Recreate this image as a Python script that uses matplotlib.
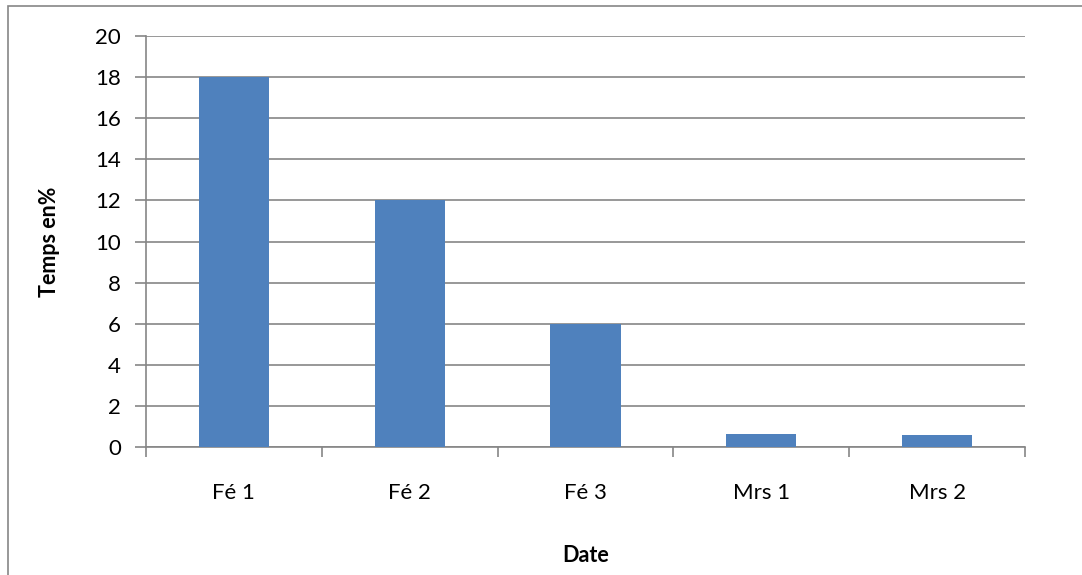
import matplotlib
matplotlib.use("Agg")
import matplotlib.pyplot as plt
from matplotlib.patches import Rectangle

categories = ["Fé 1", "Fé 2", "Fé 3", "Mrs 1", "Mrs 2"]
values = [18, 12, 6, 0.65, 0.6]
yticks = [0, 2, 4, 6, 8, 10, 12, 14, 16, 18, 20]

plt.rcParams['font.family'] = ['Lato', 'DejaVu Sans']

W, H = 1082, 575
fig = plt.figure(figsize=(W / 100, H / 100), dpi=100)
fig.patch.set_facecolor('white')

# outer chart frame
fig.patches.append(Rectangle((8 / W, -0.1), 1.2, 1 - 6 / H + 0.1, transform=fig.transFigure,
                             fill=False, edgecolor='#868686', linewidth=1.2))

ax = fig.add_axes([146 / W, (H - 447) / H, (1025 - 146) / W, (447 - 36) / H])
grid_c = '#868686'
x = list(range(len(categories)))
ax.bar(x, values, width=0.4, color='#4F81BD', zorder=3)
ax.set_xlim(-0.5, len(categories) - 0.5)
ax.set_ylim(0, 20)
ax.set_yticks(yticks)
ax.set_yticklabels([str(t) for t in yticks])
ax.yaxis.grid(True, color=grid_c, linewidth=1.2, zorder=0)
ax.set_axisbelow(True)

ax.set_xticks([i - 0.5 for i in range(len(categories) + 1)])
ax.set_xticklabels([])
ax.set_xticks(x, minor=True)
ax.set_xticklabels(categories, minor=True)
ax.tick_params(axis='x', which='minor', length=0, pad=26, labelsize=16)
ax.tick_params(axis='x', which='major', length=7, width=1.2, color=grid_c, direction='out')
ax.tick_params(axis='y', length=8, width=1.2, color=grid_c, labelsize=16, pad=10)

for s in ['top', 'right']:
    ax.spines[s].set_visible(False)
for s in ['left', 'bottom']:
    ax.spines[s].set_color(grid_c)
    ax.spines[s].set_linewidth(1.2)

ax.set_ylabel("Temps en%", fontsize=15.5, fontweight='bold', labelpad=25)
ax.set_xlabel("Date", fontsize=15.5, fontweight='bold', labelpad=30)

fig.savefig("out.png", dpi=100)
